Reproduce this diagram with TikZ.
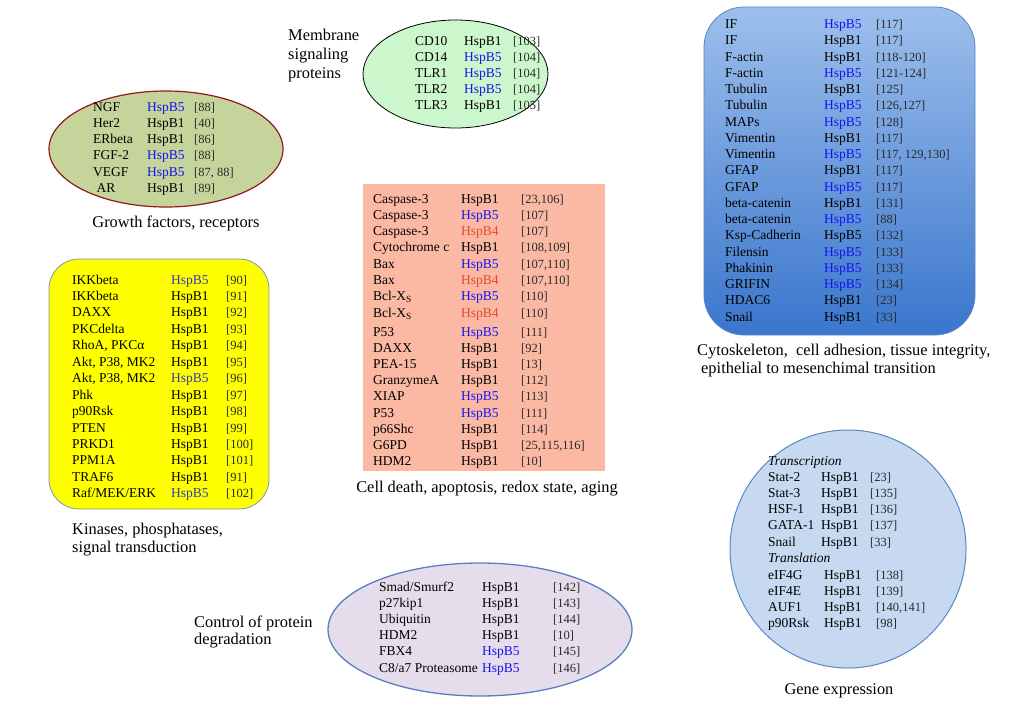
\documentclass[tikz,border=0pt]{standalone}
\usepackage{fontspec}
\setmainfont{Liberation Serif}
\usetikzlibrary{shapes.geometric}

\definecolor{gffill}{HTML}{C5D49B}
\definecolor{gfedge}{HTML}{8E1B1B}
\definecolor{memfill}{HTML}{CCF6CC}
\definecolor{cytotop}{HTML}{9DBFEC}
\definecolor{cytobot}{HTML}{3A76CC}
\definecolor{cytoedge}{HTML}{5A86C6}
\definecolor{kinfill}{HTML}{FFFF00}
\definecolor{kinedge}{HTML}{7F95BA}
\definecolor{deathfill}{HTML}{FBB9A4}
\definecolor{genefill}{HTML}{C6D9F0}
\definecolor{geneedge}{HTML}{5B87C2}
\definecolor{degfill}{HTML}{E5DDEC}
\definecolor{degedge}{HTML}{5A7FC0}
\definecolor{hspblue}{HTML}{1414F0}
\definecolor{kinblue}{HTML}{2E3FB0}
\definecolor{hspred}{HTML}{E24A2E}
\definecolor{refgray}{HTML}{2A2A2A}

\newcommand{\HBone}{HspB1}
\newcommand{\HBfive}{\textcolor{hspblue}{HspB5}}
\newcommand{\HBfour}{\textcolor{hspred}{HspB4}}

\begin{document}
\begin{tikzpicture}[x=1pt,y=-1pt]
    \def\rowsep{16.3}

    \tikzstyle{entry}=[anchor=base west,inner sep=0pt,font=\fontsize{13.5}{16}\selectfont]
    \tikzstyle{refs}=[entry,font=\fontsize{12.5}{14}\selectfont,text=refgray]
    \tikzstyle{caption}=[anchor=base west,inner sep=0pt,font=\fontsize{16.4}{19}\selectfont]

    \useasboundingbox (0,0) rectangle (1024,707);

    % Growth factors, receptors
    \node[ellipse,draw=gfedge,line width=1.2pt,fill=gffill,minimum width=234pt,minimum height=116pt] (growth) at (166,149) {};
    \foreach \prot/\hsp/\refs [count=\i] in {NGF/\HBfive/{[88]}, Her2/\HBone/{[40]}, ERbeta/\HBone/{[86]},
      FGF-2/\HBfive/{[88]}, VEGF/\HBfive/{[87, 88]}, {\ AR}/\HBone/{[89]}}
    {
      \node[entry] (gf-p\i) at (93,{111+\rowsep*(\i-1)}) {\prot};
      \node[entry] (gf-h\i) at (147,{111+\rowsep*(\i-1)}) {\hsp};
      \node[refs] (gf-r\i) at (194,{111+\rowsep*(\i-1)}) {\refs};
    }
    \node[caption,anchor=base] (gf-cap) at (176,227) {Growth factors, receptors};

    % Membrane signaling proteins
    \node[ellipse,draw,line width=0.8pt,fill=memfill,minimum width=185pt,minimum height=108pt] (membrane) at (455.5,74) {};
    \foreach \prot/\hsp/\refs [count=\i] in {CD10/\HBone/{[103]}, CD14/\HBfive/{[104]}, TLR1/\HBfive/{[104]},
      TLR2/\HBfive/{[104]}, TLR3/\HBone/{[105]}}
    {
      \node[entry] (mem-p\i) at (415,{45+16.2*(\i-1)}) {\prot};
      \node[entry] (mem-h\i) at (464,{45+16.2*(\i-1)}) {\hsp};
      \node[refs] (mem-r\i) at (513,{45+16.2*(\i-1)}) {\refs};
    }
    \node[caption] (mem-cap1) at (288,40) {Membrane};
    \node[caption] (mem-cap2) at (288,59) {signaling};
    \node[caption] (mem-cap3) at (288,78) {proteins};

    % Cytoskeleton
    \node[draw=cytoedge,line width=0.8pt,rounded corners=40pt,top color=cytotop,bottom color=cytobot,minimum width=271pt,minimum height=328pt] (cyto) at (839.5,171) {};
    \foreach \prot/\hsp/\refs [count=\i] in {IF/\HBfive/{[117]}, IF/\HBone/{[117]}, F-actin/\HBone/{[118-120]},
      F-actin/\HBfive/{[121-124]}, Tubulin/\HBone/{[125]}, Tubulin/\HBfive/{[126,127]}, MAPs/\HBfive/{[128]},
      Vimentin/\HBone/{[117]}, Vimentin/\HBfive/{[117, 129,130]}, GFAP/\HBone/{[117]}, GFAP/\HBfive/{[117]},
      beta-catenin/\HBone/{[131]}, beta-catenin/\HBfive/{[88]}, Ksp-Cadherin/HspB5/{[132]}, Filensin/\HBfive/{[133]},
      Phakinin/\HBfive/{[133]}, GRIFIN/\HBfive/{[134]}, HDAC6/\HBone/{[23]}, Snail/\HBone/{[33]}}
    {
      \node[entry] (cyto-p\i) at (725,{28.5+16.25*(\i-1)}) {\prot};
      \node[entry] (cyto-h\i) at (824,{28.5+16.25*(\i-1)}) {\hsp};
      \node[refs] (cyto-r\i) at (876,{28.5+16.25*(\i-1)}) {\refs};
    }
    \node[caption] (cyto-cap1) at (697,355) {Cytoskeleton,\ \ cell adhesion, tissue integrity,};
    \node[caption] (cyto-cap2) at (701,373) {epithelial to mesenchimal transition};

    % Kinases, phosphatases
    \begin{scope}
    \colorlet{hspblue}{kinblue}
    \node[draw=kinedge,line width=0.8pt,rounded corners=30pt,fill=kinfill,minimum width=220pt,minimum height=250pt] (kinase) at (159,384) {};
    \foreach \prot/\hsp/\refs [count=\i] in {IKKbeta/\HBfive/{[90]}, IKKbeta/\HBone/{[91]}, DAXX/\HBone/{[92]},
      PKCdelta/\HBone/{[93]}, {RhoA, PKCα}/\HBone/{[94]}, {Akt, P38, MK2}/\HBone/{[95]}, {Akt, P38, MK2}/\HBfive/{[96]},
      Phk/\HBone/{[97]}, p90Rsk/\HBone/{[98]}, PTEN/\HBone/{[99]}, PRKD1/\HBone/{[100]}, PPM1A/\HBone/{[101]},
      TRAF6/\HBone/{[91]}, {Raf/MEK/ERK}/\HBfive/{[102]}}
    {
      \node[entry] (kin-p\i) at (72,{284+16.45*(\i-1)}) {\prot};
      \node[entry] (kin-h\i) at (171,{284+16.45*(\i-1)}) {\hsp};
      \node[refs] (kin-r\i) at (226,{284+16.45*(\i-1)}) {\refs};
    }
    \end{scope}
    \node[caption] (kin-cap1) at (72,534) {Kinases, phosphatases,};
    \node[caption] (kin-cap2) at (72,552) {signal transduction};

    % Cell death, apoptosis
    \node[fill=deathfill,minimum width=242pt,minimum height=287pt] (death) at (484,327.5) {};
    \foreach \y/\prot/\hsp/\refs [count=\i] in {203/Caspase-3/\HBone/{[23,106]}, 219.3/Caspase-3/\HBfive/{[107]},
      235.6/Caspase-3/\HBfour/{[107]}, 251.9/Cytochrome c/\HBone/{[108,109]}, 268.2/Bax/\HBfive/{[107,110]},
      284.5/Bax/\HBfour/{[107,110]}, 300.8/Bcl-X\textsubscript{S}/\HBfive/{[110]}, 317.1/Bcl-X\textsubscript{S}/\HBfour/{[110]},
      336/P53/\HBfive/{[111]}, 352.2/DAXX/\HBone/{[92]}, 368.4/PEA-15/\HBone/{[13]}, 384.6/GranzymeA/\HBone/{[112]},
      400.8/XIAP/\HBfive/{[113]}, 417/P53/\HBfive/{[111]}, 433.2/p66Shc/\HBone/{[114]},
      449.4/G6PD/\HBone/{[25,115,116]}, 465.6/HDM2/\HBone/{[10]}}
    {
      \node[entry] (death-p\i) at (373,\y) {\prot};
      \node[entry] (death-h\i) at (461,\y) {\hsp};
      \node[refs] (death-r\i) at (521,\y) {\refs};
    }
    \node[caption,anchor=base] (death-cap) at (487,492) {Cell death, apoptosis, redox state, aging};

    % Gene expression
    \node[ellipse,draw=geneedge,line width=1pt,fill=genefill,minimum width=236pt,minimum height=238pt] (gene) at (848,549) {};
    \node[entry,font=\fontsize{13.5}{16}\selectfont\itshape] (gene-t) at (768,465) {Transcription};
    \foreach \prot/\refs [count=\i] in {Stat-2/{[23]}, Stat-3/{[135]}, HSF-1/{[136]}, GATA-1/{[137]}, Snail/{[33]}}
    {
      \node[entry] (gene-p\i) at (768,{481+\rowsep*(\i-1)}) {\prot};
      \node[entry] (gene-h\i) at (821,{481+\rowsep*(\i-1)}) {\HBone};
      \node[refs] (gene-r\i) at (870,{481+\rowsep*(\i-1)}) {\refs};
    }
    \node[entry,font=\fontsize{13.5}{16}\selectfont\itshape] (gene-l) at (768,562.5) {Translation};
    \foreach \prot/\refs [count=\i] in {eIF4G/{[138]}, eIF4E/{[139]}, AUF1/{[140,141]}, p90Rsk/{[98]}}
    {
      \node[entry] (gene-q\i) at (768,{579+\rowsep*(\i-1)}) {\prot};
      \node[entry] (gene-k\i) at (824,{579+\rowsep*(\i-1)}) {\HBone};
      \node[refs] (gene-s\i) at (876,{579+\rowsep*(\i-1)}) {\refs};
    }
    \node[caption,anchor=base] (gene-cap) at (839,694) {Gene expression};

    % Control of protein degradation
    \node[ellipse,draw=degedge,line width=1.3pt,fill=degfill,minimum width=304pt,minimum height=133pt] (degrade) at (480,629.5) {};
    \foreach \prot/\hsp/\refs [count=\i] in {{Smad/Smurf2}/\HBone/{[142]}, p27kip1/\HBone/{[143]}, Ubiquitin/\HBone/{[144]},
      HDM2/\HBone/{[10]}, FBX4/\HBfive/{[145]}, {C8/a7 Proteasome}/\HBfive/{[146]}}
    {
      \node[entry] (deg-p\i) at (379,{591+16.2*(\i-1)}) {\prot};
      \node[entry] (deg-h\i) at (482,{591+16.2*(\i-1)}) {\hsp};
      \node[refs] (deg-r\i) at (553,{591+16.2*(\i-1)}) {\refs};
    }
    \node[caption] (deg-cap1) at (194,627) {Control of protein};
    \node[caption] (deg-cap2) at (194,644) {degradation};
\end{tikzpicture}
\end{document}
